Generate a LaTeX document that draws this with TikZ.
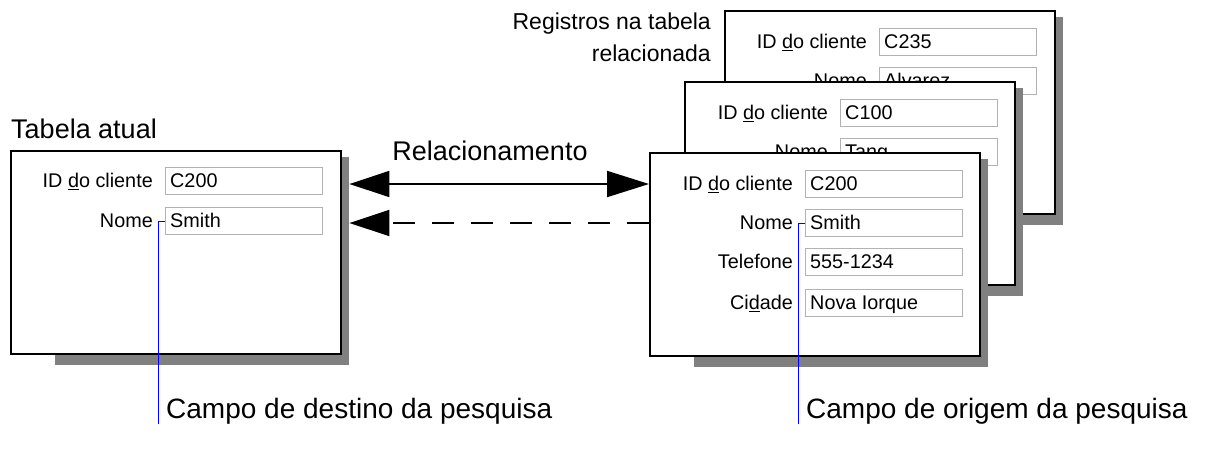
\documentclass[tikz,border=0pt]{standalone}
\usepackage{fontspec}
\setmainfont{Liberation Sans}
\usetikzlibrary{arrows.meta,calc}

\tikzset{
  tabela/.style={draw, fill=white, line width=1.5pt, minimum width=330pt, minimum height=203pt, inner sep=0pt, anchor=north west},
  sombra/.style={fill=gray, draw=none, minimum width=294pt, minimum height=208pt, inner sep=0pt, anchor=north west},
  campo/.style={draw=gray!60, fill=white, line width=1pt, minimum width=157pt, minimum height=27pt, inner sep=0pt, anchor=north west},
  rotulo/.style={font=\fontsize{19.8}{23}\selectfont, inner sep=0pt, anchor=base east},
  valor/.style={font=\fontsize{19.8}{23}\selectfont, inner sep=0pt, anchor=base west},
  titulo/.style={font=\fontsize{27}{32}\selectfont, inner sep=0pt},
  legenda/.style={font=\fontsize{28}{33}\selectfont, inner sep=0pt, anchor=base west},
  relseta/.style={line width=2pt},
  guia/.style={draw=blue, line width=1pt},
}

\begin{document}
\begin{tikzpicture}[x=1pt,y=1pt,yscale=-1]
\useasboundingbox (0,0) rectangle (1214,451);

% Registro C235 (atras)
\node[sombra] (s3) at (769,17) {};
\node[tabela] (t3) at (724,10) {};
\node[campo] (c3a) at ($(t3.north west)+(155,18)$) {};
\node[campo] (c3b) at ($(t3.north west)+(155,57)$) {};
\node[rotulo] (r3a) at ($(c3a.west)+(-12,6.8)$) {ID \underline{d}o cliente};
\node[valor] (v3a) at ($(c3a.west)+(5,6.8)$) {C235};
\node[rotulo] (r3b) at ($(c3b.west)+(-12,6.8)$) {Nome};
\node[valor] (v3b) at ($(c3b.west)+(5,6.8)$) {Alvarez};

% Registro C100 (meio)
\node[sombra] (s2) at (729,88) {};
\node[tabela] (t2) at (684,81) {};
\node[campo] (c2a) at ($(t2.north west)+(156,18)$) {};
\node[campo] (c2b) at ($(t2.north west)+(156,57)$) {};
\node[rotulo] (r2a) at ($(c2a.west)+(-12,6.8)$) {ID \underline{d}o cliente};
\node[valor] (v2a) at ($(c2a.west)+(5,6.8)$) {C100};
\node[rotulo] (r2b) at ($(c2b.west)+(-12,6.8)$) {Nome};
\node[valor] (v2b) at ($(c2b.west)+(5,6.8)$) {Tang};

% Registro C200 (frente)
\node[sombra] (s1) at (694,159) {};
\node[tabela] (t1) at (649,152) {};
\node[campo] (c1a) at ($(t1.north west)+(156,18)$) {};
\node[campo] (c1b) at ($(t1.north west)+(156,57)$) {};
\node[campo] (c1c) at ($(t1.north west)+(156,96)$) {};
\node[campo] (c1d) at ($(t1.north west)+(156,137)$) {};
\node[rotulo] (r1a) at ($(c1a.west)+(-12,6.8)$) {ID \underline{d}o cliente};
\node[valor] (v1a) at ($(c1a.west)+(5,6.8)$) {C200};
\node[rotulo] (r1b) at ($(c1b.west)+(-12,6.8)$) {Nome};
\node[valor] (v1b) at ($(c1b.west)+(5,6.8)$) {Smith};
\node[rotulo] (r1c) at ($(c1c.west)+(-12,6.8)$) {Telefone};
\node[valor] (v1c) at ($(c1c.west)+(5,6.8)$) {555-1234};
\node[rotulo] (r1d) at ($(c1d.west)+(-12,6.8)$) {Ci\underline{d}ade};
\node[valor] (v1d) at ($(c1d.west)+(5,6.8)$) {Nova Iorque};

% Tabela atual
\node[sombra] (s0) at (55,157) {};
\node[tabela] (t0) at (10,150) {};
\node[campo] (c0a) at ($(t0.north west)+(155,17)$) {};
\node[campo] (c0b) at ($(t0.north west)+(155,57)$) {};
\node[rotulo] (r0a) at ($(c0a.west)+(-12,6.8)$) {ID \underline{d}o cliente};
\node[valor] (v0a) at ($(c0a.west)+(5,6.8)$) {C200};
\node[rotulo] (r0b) at ($(c0b.west)+(-12,6.8)$) {Nome};
\node[valor] (v0b) at ($(c0b.west)+(5,6.8)$) {Smith};

% Titulos
\node[titulo, anchor=base west] (tatual) at (11,138) {Tabela atual};
\node[titulo, anchor=base] (trel) at (490,160) {Relacionamento};
\node[font=\fontsize{23}{28}\selectfont, inner sep=0pt, anchor=base east] (treg1) at (711,29.3) {Registros na tabela};
\node[font=\fontsize{23}{28}\selectfont, inner sep=0pt, anchor=base east] (treg2) at (711,61.7) {relacionada};

% Setas do relacionamento
\draw[relseta, {Triangle[length=40pt,width=26pt]}-{Triangle[length=42pt,width=26pt]}] (s0.east |- c1a.west) -- (t1.west |- c1a.west);
\draw[relseta, dash pattern=on 22pt off 17pt, -{Triangle[length=40pt,width=26pt]}] (t1.west |- c1b.west) -- (s0.east |- c1b.west);

% Legendas
\node[legenda] (destino) at (166,418) {Campo de destino da pesquisa};
\node[legenda] (origem) at (806,418) {Campo de origem da pesquisa};
\draw[guia] (c0b.west) -- ++(-7,0) coordinate (g0) -- (g0 |- destino.south);
\draw[guia] (c1b.west) -- ++(-7,0) coordinate (g1) -- (g1 |- origem.south);

\end{tikzpicture}
\end{document}
